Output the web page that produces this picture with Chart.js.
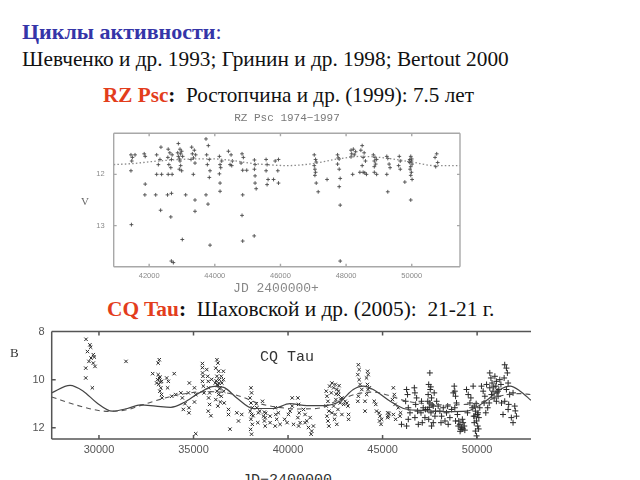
<!DOCTYPE html>
<html><head><meta charset="utf-8">
<script src="https://cdn.jsdelivr.net/npm/chart.js@4.4.0/dist/chart.umd.min.js"></script>
<style>
html,body{margin:0;padding:0;background:#fff;width:640px;height:480px;overflow:hidden;position:relative;font-family:"Liberation Serif","Times New Roman",serif}
.t{position:absolute;white-space:nowrap;line-height:1}
canvas{position:absolute}
</style></head><body>
<div class="t" style="left:22px;top:21px;font-size:22px;color:#3535a8;"><b>Циклы активности</b>:</div>
<div class="t" style="left:22px;top:49px;font-size:21.3px;color:#111;">Шевченко и др. 1993; Гринин и др. 1998; Bertout 2000</div>
<div class="t" style="left:103px;top:85px;font-size:21.2px;color:#111;"><b style="color:#e33d1c">RZ Psc</b><b>:</b>&nbsp; Ростопчина и др. (1999): 7.5 лет</div>
<div class="t" style="left:107px;top:299px;font-size:21.4px;color:#111;"><b style="color:#e33d1c">CQ Tau</b><b>:</b>&nbsp; Шаховской и др. (2005):&nbsp; 21-21 г.</div>

<canvas id="c1" width="420" height="195" style="left:60px;top:108px"></canvas>
<canvas id="c2" width="560" height="145" style="left:0px;top:318px"></canvas>

<div class="t" style="left:287px;top:113px;transform:translateX(-50%);font-family:'Liberation Mono',monospace;font-size:11px;color:#7a7a7a;">RZ Psc 1974−1997</div>
<div class="t" style="left:81px;top:196px;font-size:11px;color:#666;">V</div>
<div class="t" style="left:276px;top:282px;transform:translateX(-50%);font-family:'Liberation Mono',monospace;font-size:13px;color:#888;">JD 2400000+</div>
<div class="t" style="left:10px;top:346px;font-size:13px;color:#333;">B</div>
<div class="t" style="left:287px;top:350px;transform:translateX(-50%);font-family:'Liberation Mono',monospace;font-size:15px;color:#333;">CQ Tau</div>
<div class="t" style="left:287px;top:473px;transform:translateX(-50%);font-family:'Liberation Mono',monospace;font-size:15px;color:#333;">JD−2400000</div>

<script>
// ---------- RZ Psc (top panel) ----------
const rzTicksX = [42000, 44000, 46000, 48000, 50000];
const rzTicksY = [12, 13];
const rzFitJD = [40920, 41500, 42100, 42700, 43400, 44000, 44400, 45200, 45800, 46200, 47000, 47750, 48470, 49180, 50000, 50700, 51470];
const rzFitV  = [11.81, 11.79, 11.75, 11.72, 11.70, 11.70, 11.72, 11.79, 11.82, 11.83, 11.79, 11.70, 11.65, 11.68, 11.76, 11.83, 11.83];
const rzObs = [
 [41446,11.62],[41490,11.67],[41570,11.62],[41470,11.74],[41446,11.93],[41460,12.98],
 [41850,11.60],[41880,11.65],[41880,12.19],[41870,12.40],
 [42229,11.62],[42330,11.71],[42360,11.47],[42280,11.81],[42229,12.00],[42380,12.00],[42200,12.40],[42350,12.70],
 [42580,11.51],[42630,11.58],[42700,11.62],[42570,11.67],[42680,11.71],[42600,11.81],[42660,11.87],[42580,12.00],[42700,12.00],[42560,12.40],[42680,12.37],[42660,12.83],[42737,13.72],[42677,13.69],
 [42890,11.40],[42940,11.51],[42870,11.58],[42990,11.55],[42890,11.65],[43020,11.65],[42940,11.74],[42960,11.83],[42920,11.90],[42990,11.93],[43113,12.40],[43010,13.27],[42960,11.60],[42920,11.70],
 [43296,11.47],[43376,11.53],[43316,11.60],[43417,11.62],[43276,11.71],[43397,11.78],[43346,12.00],[43397,12.50],[43397,12.72],[43350,11.68],
 [43732,11.31],[43803,11.44],[43752,11.62],[43833,11.71],[43773,11.81],[43854,11.93],[43833,12.06],[43732,12.40],[43793,12.58],[43855,13.38],
 [44140,11.65],[44210,11.74],[44160,11.81],[44180,11.87],[44140,11.99],[44160,12.17],[44160,12.33],
 [44415,11.55],[44496,11.62],[44536,11.74],[44465,11.81],[44516,11.83],
 [44830,11.60],[44870,11.67],[44800,11.78],[44850,11.92],[44850,12.40],[44830,12.80],[44850,13.30],[44973,11.92],
 [45207,11.72],[45227,11.81],[45207,11.90],[45227,12.03],[45227,12.17],[45260,12.28],[45200,13.20],
 [45563,11.71],[45593,11.81],[45563,11.93],[45623,12.10],[45593,12.20],
 [45840,11.74],[45940,11.71],[45920,11.93],[45940,12.17],[45790,12.10],
 [47030,11.62],[47070,11.71],[47090,11.76],[47030,11.83],[47050,11.90],[47070,11.96],[47050,12.02],[47090,12.17],[47150,12.34],[47420,12.10],
 [47740,11.62],[47760,11.68],[47790,11.70],[47740,11.80],[47790,11.90],[47820,12.08],[47790,12.24],[47820,12.60],[47820,13.69],
 [48150,11.53],[48220,11.51],[48290,11.56],[48170,11.60],[48250,11.62],[48200,12.00],[48150,11.66],
 [48490,11.44],[48450,11.53],[48550,11.58],[48520,11.67],[48590,11.74],[48490,11.83],[48520,11.96],[48570,11.97],[48620,12.00],[48420,11.96],
 [48830,11.62],[48880,11.67],[48930,11.71],[48860,11.74],[48900,11.80],[48860,11.96],[48930,12.00],[48860,11.85],
 [49240,11.65],[49270,11.69],[49310,11.80],[49340,11.87],[49240,12.00],[49270,12.34],
 [49620,11.65],[49650,11.74],[49600,11.83],[49650,11.90],[49790,12.15],
 [49970,11.65],[49940,11.71],[49990,11.74],[49940,11.77],[50010,11.80],[49970,11.85],[49950,11.90],[49990,11.96],[49970,12.02],[50010,12.10],[49970,12.50],[49920,11.75],[50000,11.70],
 [50760,11.60],[50710,11.67],[50790,11.77],[50730,11.85]
];

// ---------- CQ Tau (bottom panel) ----------
const cqTicksX = [30000, 35000, 40000, 45000, 50000];
const cqTicksY = [8, 10, 12];
const cqSolidJD = [27500, 28470, 29170, 29880, 30700, 31500, 32200, 33000, 33800, 34500, 35300, 36100, 36600, 37290, 38160, 39220, 40100, 41000, 41870, 42750, 43450, 43980, 44500, 45400, 46100, 46980, 48400, 49450, 50510, 51220, 51750, 52280, 52850];
const cqSolidB  = [10.55, 10.24, 10.48, 10.96, 11.31, 11.20, 11.05, 11.10, 11.15, 10.95, 10.55, 10.28, 10.32, 10.76, 11.20, 11.20, 11.00, 11.08, 11.08, 10.90, 10.41, 10.27, 10.41, 10.90, 11.20, 11.28, 11.33, 11.31, 10.86, 10.41, 10.27, 10.48, 10.86];
const cqDashJD = [27500, 28900, 30500, 31500, 32300, 33700, 34800, 35800, 36500, 37500, 38500, 39500, 40500, 41500, 42700, 43700, 44500, 45300, 46200, 47300, 48500, 49400, 50400, 51400, 52200, 52850];
const cqDashB  = [10.72, 11.08, 11.32, 11.25, 11.05, 10.72, 10.55, 10.50, 10.52, 10.70, 11.00, 11.15, 11.22, 11.20, 10.85, 10.58, 10.52, 10.65, 10.88, 11.00, 11.05, 11.03, 10.90, 10.65, 10.58, 10.62];
const cqCross = [
 [29315,8.32],[29520,8.55],[29560,8.65],[29390,8.83],[29700,8.96],[29580,9.10],[29755,9.06],[29470,9.24],[29700,9.31],[29790,9.45],[29300,9.52],[29300,9.93],[29650,10.34],
 [31430,9.24],
 [33190,9.17],[33130,9.31],[32840,9.75],[33130,9.79],[33220,9.89],[33100,10.00],[33310,10.07],[33160,10.20],[33270,10.34],[33220,10.48],[33310,10.62],[33340,10.76],[33050,10.14],[33200,9.95],[33250,10.10],
 [33580,9.93],[33670,10.07],[33630,10.34],[33980,9.75],[33850,10.69],[34060,10.62],[34330,10.55],[34410,10.76],[34550,11.00],
 [34780,10.14],[34730,10.55],[35050,10.34],[35120,10.62],[35050,10.93],[34760,11.17],[34460,11.24],[34760,11.38],[35120,12.25],
 [35470,9.33],[35470,9.50],[35480,9.72],[35500,9.86],[35470,10.07],[35520,10.27],[35560,10.55],
 [35700,9.58],[35750,9.86],[35780,10.07],[35800,10.34],[35850,10.55],[35800,10.76],[35850,11.03],[35780,11.31],[35920,11.50],[35960,9.99],
 [36240,9.17],[36290,9.31],[36180,9.52],[36330,9.65],[36240,9.86],[36370,10.00],[36150,10.14],[36290,10.24],[36420,10.34],[36240,10.48],[36330,10.62],[36470,10.69],[36180,10.83],[36420,10.93],[36290,11.10],[36470,9.86],[36500,10.14],[36370,10.38],[36200,10.05],[36350,10.15],[36260,10.20],
 [36580,9.65],[36580,10.00],[36600,10.48],[36620,10.97],
 [36850,11.45],[36930,12.06],[37290,11.38],[37380,11.72],[37550,11.45],[36850,11.24],
 [38040,10.34],[38070,10.55],[37990,10.76],[38040,10.97],[38110,11.17],[38000,11.31],[38070,11.45],[38040,11.65],[38110,11.86],[38020,12.07],[38070,12.27],[38150,11.50],
 [38350,11.17],[38430,11.38],[38500,11.31],[38650,10.90],[38700,11.52],[38400,11.79],[38320,11.00],
 [38750,11.35],[38820,11.40],[38790,11.58],[39050,11.52],[39050,11.79],[38790,11.93],[38750,11.72],
 [39320,11.17],[39350,11.45],[39400,11.65],[39490,11.38],[39580,11.86],[39320,11.93],
 [39820,11.65],[39950,11.79],[40110,11.31],[40220,10.76],[40220,11.10],[40020,11.45],[40290,11.86],
 [40520,10.76],[40560,11.03],[40590,11.38],[40520,11.58],[40640,11.79],[40560,11.93],
 [40820,11.24],[40900,11.45],[40990,11.72],[41080,11.99],[41170,11.58],[41250,12.14],[41340,11.93],[41220,12.27],[40900,11.79],
 [42020,10.48],[42060,10.69],[42110,10.90],[42020,11.10],[42160,11.31],[42060,11.52],[42110,11.72],[42160,11.93],[42200,10.27],
 [42320,10.14],[42410,10.34],[42490,10.20],[42580,10.41],[42670,10.62],[42530,10.83],[42760,10.97],[42410,11.10],[42640,11.24],[42850,10.76],[42940,11.03],[43020,10.90],[43110,10.97],[43170,11.10],[42320,11.38],[42460,11.65],[42580,11.86],[42850,11.45],[43200,11.45],[43200,11.65],[42290,10.55],[42670,10.48],[42490,11.45],[42700,10.25],[42550,10.60],[42780,10.80],
 [43720,9.38],[43760,9.58],[43690,9.79],[43760,10.00],[43810,10.20],[43900,10.41],[43720,10.69],[43690,10.90],[44210,9.65],[44150,9.93],[44240,9.79],[44070,10.90],
 [44200,10.20],[44230,10.41],[44160,10.62],[44300,10.34],[44070,11.31],
 [44560,10.90],[44680,11.31],[44640,11.03],
 [44810,11.38],[44860,11.52],[44840,11.72],[44920,11.86],[44950,11.65],
 [45270,11.38],[45300,11.52],[45340,11.41],[45270,11.58],
 [45570,10.34],[45620,10.62],[45520,10.83],[45660,11.03],[45570,11.45],[45690,11.65],
 [45830,11.17],[45920,11.52],[45950,11.38]
];
const cqPlus = [
 [46000,11.86],[46270,10.41],[46320,10.62],[46220,10.90],[46360,11.17],[46450,11.38],[46360,11.65],[46270,11.93],
 [46680,10.34],[46710,10.55],[46800,10.76],[46750,11.03],[46850,11.31],[46710,11.58],[46890,11.86],
 [47060,10.90],[47150,11.17],[47030,11.38],[47240,11.58],[47100,11.79],[47270,11.24],
 [47500,9.72],[47440,10.20],[47520,10.41],[47410,10.62],[47590,10.76],[47500,10.97],[47680,11.10],[47380,11.24],[47560,11.38],[47770,11.52],[47440,11.65],[47680,11.79],[47590,11.93],[47800,11.31],[47860,10.90],[47730,10.55],[47390,10.90],[47620,11.05],[47470,11.15],[47550,10.30],
 [47940,11.10],[48030,11.31],[48120,11.52],[48210,11.17],[48300,11.72],[48380,11.38],[48470,11.86],[48560,11.58],[48650,11.24],[48090,11.79],[48440,11.10],
 [48790,10.27],[48820,10.48],[48860,10.69],[48910,10.97],[48820,11.17],[48960,11.45],[48860,11.72],[49000,11.93],[48740,10.55],
 [49030,11.72],[49090,11.86],[49180,12.00],[49260,11.79],[49140,12.07],[49320,11.93],[49220,11.65],[49350,12.10],[49100,12.15],[49250,12.05],
 [49440,10.41],[49530,10.62],[49670,10.76],[49620,10.97],[49740,11.17],[49790,10.27],[49490,11.38],[49820,11.52],
 [49850,11.10],[49910,11.31],[49880,11.52],[49970,11.72],[50030,11.93],[49910,12.14],[49970,12.34],[50050,11.38],[50090,11.58],[49850,11.79],[50140,11.17],[49950,11.00],[50020,11.45],[50080,12.05],
 [50230,10.27],[50320,10.48],[50410,10.69],[50370,10.97],[50500,10.20],[50560,11.17],[50460,11.38],
 [50670,9.72],[50730,9.93],[50790,10.14],[50670,10.34],[50840,10.48],[50760,10.62],[50940,9.86],[51020,10.07],[50990,10.27],[51100,10.48],[51110,10.69],[51020,10.90],[51200,10.00],[51260,10.20],[51150,10.41],[50900,10.76],[50640,10.97],[51290,10.97],[50880,10.30],[51050,10.55],
 [51460,9.38],[51550,9.52],[51600,9.72],[51430,9.93],[51640,10.14],[51550,10.41],[51720,10.62],[51460,10.90],[51640,11.24],[51810,11.58],[51370,11.45],[51670,11.03],
 [51900,10.55],[51990,11.10],[52080,11.52],[51900,11.79],[52020,11.30]
];

const pts = arr => arr.map(p => ({x: p[0], y: p[1]}));
const zip = (xs, ys) => xs.map((v, i) => ({x: v, y: ys[i]}));

const framePlugin = {
  id: 'frame',
  afterDatasetsDraw(chart, args, o) {
    const {ctx, chartArea: a, scales: {x, y}} = chart;
    ctx.save();
    ctx.strokeStyle = o.color; ctx.lineWidth = o.width;
    ctx.beginPath();
    ctx.moveTo(a.left, a.top); ctx.lineTo(a.right, a.top);
    ctx.moveTo(a.left, a.bottom); ctx.lineTo(a.right, a.bottom);
    ctx.moveTo(a.left, a.top); ctx.lineTo(a.left, a.bottom);
    if (o.right) { ctx.moveTo(a.right, a.top); ctx.lineTo(a.right, a.bottom); }
    x.ticks.forEach(t => {
      const px = x.getPixelForValue(t.value);
      ctx.moveTo(px, a.bottom); ctx.lineTo(px, a.bottom - o.len);
      ctx.moveTo(px, a.top); ctx.lineTo(px, a.top + o.len);
    });
    y.ticks.forEach(t => {
      const py = y.getPixelForValue(t.value);
      ctx.moveTo(a.left, py); ctx.lineTo(a.left + o.len, py);
      if (o.right) { ctx.moveTo(a.right, py); ctx.lineTo(a.right - o.len, py); }
    });
    ctx.stroke();
    ctx.restore();
  }
};

Chart.defaults.animation = false;

new Chart(document.getElementById('c1'), {
  type: 'scatter',
  data: { datasets: [
    { data: zip(rzFitJD, rzFitV), type: 'line', showLine: true, pointRadius: 0,
      borderColor: '#8a8a8a', borderWidth: 1.3, borderDash: [1.5, 2.2], cubicInterpolationMode: 'monotone', fill: false },
    { data: pts(rzObs), pointStyle: 'cross', pointRadius: 1.9, borderWidth: 0.9,
      borderColor: '#4a4a4a', backgroundColor: '#4a4a4a' }
  ]},
  options: {
    responsive: false, devicePixelRatio: 1,
    layout: { padding: { top: 25.3, right: 20, left: 0, bottom: 0 } },
    plugins: { legend: { display: false }, tooltip: { enabled: false },
      frame: { color: '#a8a8a8', width: 1.4, len: 3, right: true } },
    scales: {
      x: { type: 'linear', min: 40920, max: 51470,
        afterBuildTicks: s => { s.ticks = rzTicksX.map(v => ({value: v})); },
        afterFit: s => { s.height = 36.3; },
        grid: { display: false, drawTicks: false }, border: { display: false },
        ticks: { padding: 5, color: '#8a8a8a', font: { family: 'Liberation Sans', size: 7.5 }, maxRotation: 0,
          callback: v => String(v) } },
      y: { type: 'linear', reverse: true, min: 11.2, max: 13.8,
        afterBuildTicks: s => { s.ticks = rzTicksY.map(v => ({value: v})); },
        afterFit: s => { s.width = 53.7; },
        grid: { display: false, drawTicks: false }, border: { display: false },
        ticks: { padding: 9, color: '#8a8a8a', font: { family: 'Liberation Sans', size: 7.5 } } }
    }
  },
  plugins: [framePlugin]
});

new Chart(document.getElementById('c2'), {
  type: 'scatter',
  data: { datasets: [
    { data: zip(cqSolidJD, cqSolidB), type: 'line', showLine: true, pointRadius: 0,
      borderColor: '#444', borderWidth: 1.2, cubicInterpolationMode: 'monotone', fill: false },
    { data: zip(cqDashJD, cqDashB), type: 'line', showLine: true, pointRadius: 0,
      borderColor: '#555', borderWidth: 1.1, borderDash: [5, 4], cubicInterpolationMode: 'monotone', fill: false },
    { data: pts(cqCross), pointStyle: 'crossRot', pointRadius: 2.4, borderWidth: 1,
      borderColor: '#2a2a2a', backgroundColor: '#2a2a2a' },
    { data: pts(cqPlus), pointStyle: 'cross', pointRadius: 3, borderWidth: 1,
      borderColor: '#2a2a2a', backgroundColor: '#2a2a2a' }
  ]},
  options: {
    responsive: false, devicePixelRatio: 1,
    layout: { padding: { top: 12, right: 29, left: 0, bottom: 0 } },
    plugins: { legend: { display: false }, tooltip: { enabled: false },
      frame: { color: '#555', width: 1.5, len: 4, right: false } },
    scales: {
      x: { type: 'linear', min: 27500, max: 52850,
        afterBuildTicks: s => { s.ticks = cqTicksX.map(v => ({value: v})); },
        afterFit: s => { s.height = 24; },
        grid: { display: false, drawTicks: false }, border: { display: false },
        ticks: { padding: 4, color: '#555', font: { family: 'Liberation Sans', size: 11 }, maxRotation: 0,
          callback: v => String(v) } },
      y: { type: 'linear', reverse: true, min: 8, max: 12.47,
        afterBuildTicks: s => { s.ticks = cqTicksY.map(v => ({value: v})); },
        afterFit: s => { s.width = 51.7; },
        grid: { display: false, drawTicks: false }, border: { display: false },
        ticks: { padding: 7, color: '#555', font: { family: 'Liberation Sans', size: 11 } } }
    }
  },
  plugins: [framePlugin]
});
</script>
</body></html>
